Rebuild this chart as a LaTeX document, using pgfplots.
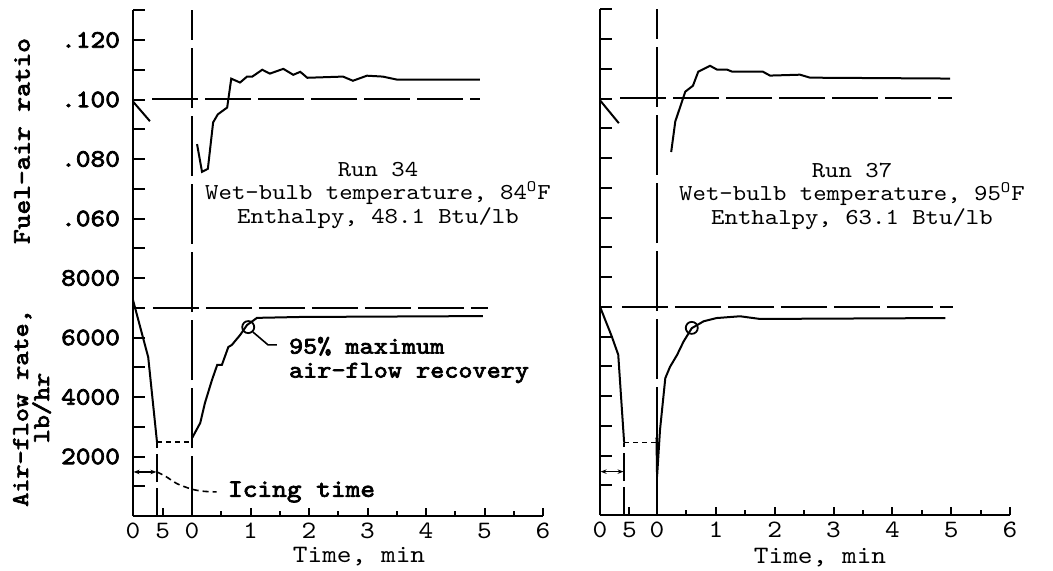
\documentclass[border=0pt]{standalone}
\usepackage{fontspec}
\setmainfont[FakeStretch=1.12]{lmmono10-regular.otf}
\newfontfamily\heavy[FakeStretch=1.12, FakeBold=3]{lmmono10-regular.otf}
\usepackage{pgfplots}
\pgfplotsset{compat=1.18}
\usetikzlibrary{arrows.meta}

\newcommand{\tickfont}{\fontsize{12.5}{13}\selectfont}
\newcommand{\annfont}{\fontsize{11.4}{11.75}\selectfont}

\pgfplotsset{
  panel/.style={
    scale only axis, width=205pt, height=252.875pt,
    ymin=0, ymax=17000,
    axis x line=bottom, axis y line=left,
    axis line style={-, line width=1.1pt},
    tick align=inside,
    ytick={1000,2000,...,16000},
    extra y ticks={17000}, extra y tick labels={},
    minor xtick={0.5,1.5,2.5,3.5,4.5,5.5},
    major tick length=6pt, minor tick length=2.5pt,
    tick style={line width=1pt, black},
    xtick style={/pgfplots/major tick length=4pt},
    clip=false,
    xticklabel style={font=\tickfont},
    yticklabel style={font=\tickfont\heavy, xshift=-3pt},
  },
  fuel/.style={
    scale only axis, width=205pt, height=252.875pt,
    ymin=-0.04, ymax=0.13, hide axis, clip=false,
  },
  curve/.style={line width=1pt, black, no marks},
  refline/.style={line width=1pt, black, no marks, dash pattern=on 23pt off 3.5pt},
  zeroline/.style={line width=1pt, black, no marks, dash pattern=on 30pt off 4pt},
  shortdash/.style={line width=0.9pt, black, no marks, dash pattern=on 2.5pt off 2pt},
  icedash/.style={line width=1.1pt, black, no marks, dash pattern=on 14pt off 3pt},
  leader/.style={line width=0.8pt, black, no marks, dash pattern=on 3pt off 2pt},
}

\begin{document}
\begin{tikzpicture}
\path[use as bounding box] (0,0) rectangle (526.5pt,-285.5pt);

% ---------------- Left panel (Run 34) ----------------
\begin{axis}[panel, at={(66.5pt,-258pt)}, anchor=south west, xmin=-1.01, xmax=6,
  xtick={-1.01,-0.5,0,1,2,3,4,5,6}, xticklabels={0,5,0,1,2,3,4,5,6},
  yticklabels={,2000,,4000,,6000,,8000,,.060,,.080,,.100,,.120}]
  % air flow before icing
  \addplot[curve] coordinates {(-1.01,7260) (-0.75,5340) (-0.6,2490)};
  % air flow after icing
  \addplot[curve] coordinates {(0,2620) (0.14,3130) (0.22,3800) (0.34,4570) (0.43,5080)
    (0.51,5080) (0.62,5680) (0.68,5750) (0.82,6080) (0.94,6420) (1.11,6660) (1.85,6690) (4.97,6720)};
  % reference lines
  \addplot[refline] coordinates {(-0.67,7000) (5.06,7000)};
  \addplot[zeroline] coordinates {(0,0) (0,17000)};
  \addplot[icedash] coordinates {(-0.6,0) (-0.6,2490)};
  \addplot[shortdash] coordinates {(-0.6,2490) (0,2490)};
  % 95% recovery circle and leader
  \addplot[only marks, mark=o, mark size=3pt, mark options={line width=0.9pt}] coordinates {(0.96,6350)};
  \addplot[line width=0.8pt, black, no marks] coordinates {(1.04,6185) (1.3,5750) (1.45,5750)};
  % icing time
  \addplot[line width=0.7pt, black, no marks, {Stealth[length=3pt]}-{Stealth[length=3pt]}] coordinates {(-1.0,1480) (-0.61,1480)};
  \addplot[leader, smooth] coordinates {(-0.6,1480) (-0.45,1330) (-0.25,1080) (0,900) (0.2,830) (0.42,810)};
\end{axis}
\begin{axis}[fuel, at={(66.5pt,-258pt)}, anchor=south west, xmin=-1.01, xmax=6]
  \addplot[curve] coordinates {(-1.01,0.0993) (-0.72,0.0927)};
  \addplot[curve] coordinates {(0.085,0.085) (0.17,0.0757) (0.27,0.0767) (0.36,0.0923) (0.44,0.095)
    (0.60,0.0973) (0.67,0.107) (0.82,0.1057) (0.94,0.1077) (1.03,0.1077) (1.2,0.11) (1.33,0.1087)
    (1.56,0.1103) (1.73,0.1083) (1.85,0.1093) (1.97,0.1073) (2.58,0.1077) (2.75,0.1063) (2.99,0.108)
    (3.26,0.1077) (3.5,0.1067) (4.92,0.1067)};
  \addplot[refline] coordinates {(-0.68,0.100) (4.92,0.100)};
\end{axis}

% ---------------- Right panel (Run 37) ----------------
\begin{axis}[panel, at={(300pt,-257.5pt)}, anchor=south west, xmin=-0.97, xmax=6,
  xtick={-0.97,-0.47,0,1,2,3,4,5,6}, xticklabels={0,5,0,1,2,3,4,5,6},
  yticklabels={}]
  \addplot[curve] coordinates {(-0.97,7000) (-0.77,6003) (-0.66,5387) (-0.56,2434)};
  \addplot[curve] coordinates {(-0.01,2600) (0,1290) (0.05,2860) (0.14,4600) (0.22,4980) (0.34,5380)
    (0.45,5830) (0.59,6280) (0.79,6510) (1.01,6620) (1.41,6680) (1.75,6590) (4.9,6620)};
  \addplot[refline] coordinates {(-0.60,7000) (5.03,7000)};
  \addplot[zeroline] coordinates {(0,0) (0,17000)};
  \addplot[icedash] coordinates {(-0.56,0) (-0.56,2434)};
  \addplot[shortdash] coordinates {(-0.56,2434) (0,2434)};
  \addplot[only marks, mark=o, mark size=3pt, mark options={line width=0.9pt}] coordinates {(0.59,6290)};
  \addplot[line width=0.7pt, black, no marks, {Stealth[length=3pt]}-{Stealth[length=3pt]}] coordinates {(-0.96,1458) (-0.57,1458)};
\end{axis}
\begin{axis}[fuel, at={(300pt,-257.5pt)}, anchor=south west, xmin=-0.97, xmax=6]
  \addplot[curve] coordinates {(-0.97,0.0994) (-0.65,0.0917)};
  \addplot[curve] coordinates {(0.24,0.082) (0.31,0.0923) (0.48,0.1023) (0.61,0.1043) (0.70,0.109)
    (0.90,0.111) (1.02,0.1097) (1.19,0.1097) (1.28,0.109) (1.80,0.109) (1.92,0.1077) (2.43,0.108)
    (2.60,0.107) (4.98,0.1067)};
  \addplot[refline] coordinates {(-0.63,0.100) (5.02,0.100)};
\end{axis}

% ---------------- Text ----------------
\node[rotate=90, font=\tickfont\heavy] at (11pt,-70.5pt) {Fuel-air ratio};
\node[rotate=90, font=\fontsize{12}{10.5}\selectfont\heavy, align=center] at (16pt,-204pt) {Air-flow rate,\\lb/hr};
\node[font=\annfont, align=center] at (189pt,-97.5pt) {Run 34\\Wet-bulb temperature, 84\textsuperscript{O}F\\Enthalpy, 48.1 Btu/lb};
\node[font=\annfont, align=center] at (426pt,-98pt) {Run 37\\Wet-bulb temperature, 95\textsuperscript{O}F\\Enthalpy, 63.1 Btu/lb};
\node[font=\fontsize{12}{12}\selectfont\heavy, anchor=west, align=left] at (141pt,-180pt) {95\% maximum\\air-flow recovery};
\node[font=\fontsize{12.5}{12.5}\selectfont\heavy, anchor=west] at (110.5pt,-246pt) {Icing time};
\node[font=\tickfont] at (179.5pt,-278.5pt) {Time, min};
\node[font=\tickfont] at (410pt,-279pt) {Time, min};
\end{tikzpicture}
\end{document}
